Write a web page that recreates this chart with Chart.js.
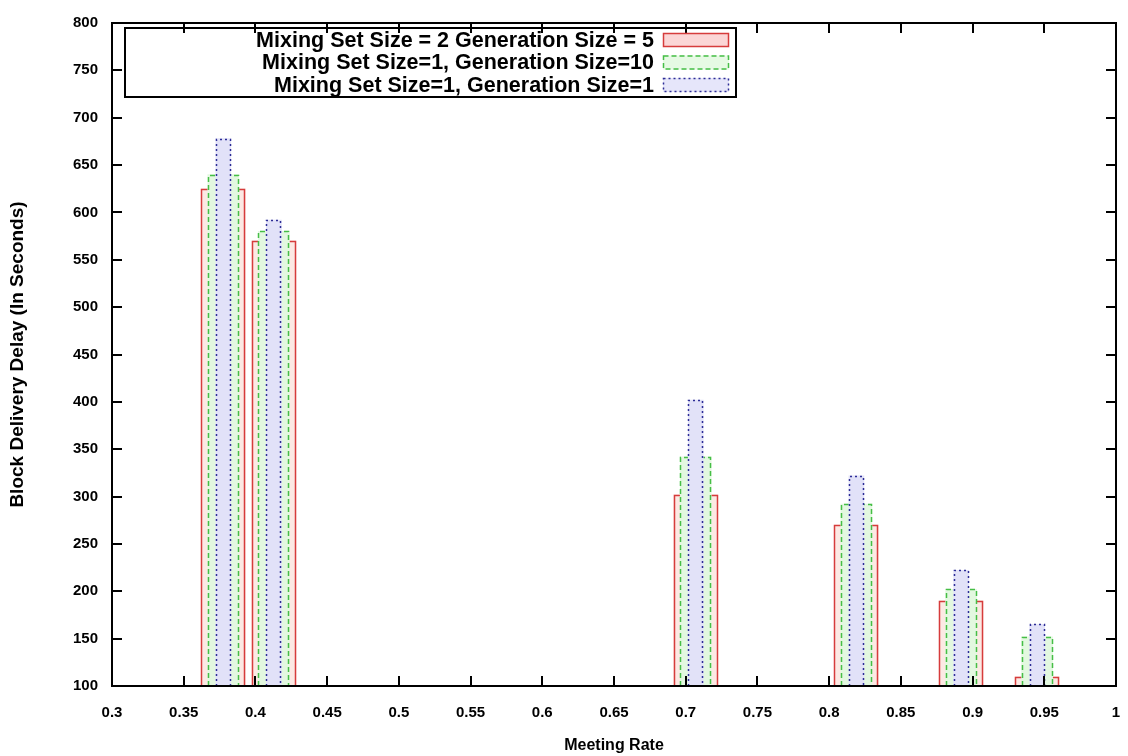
<!DOCTYPE html>
<html>
<head>
<meta charset="utf-8">
<script src="https://cdn.jsdelivr.net/npm/chart.js@4/dist/chart.umd.min.js"></script>
<style>
  html, body { margin: 0; padding: 0; background: #fff; }
  #wrap { width: 1128px; height: 756px; }
</style>
</head>
<body>
<div id="wrap"><canvas id="delayChart"></canvas></div>
<script>
// meeting rate where each group of bars sits
const meetingRates = [0.3776, 0.4129, 0.707, 0.819, 0.892, 0.945];

// block delivery delay (seconds) per configuration
const mix2Gen5 = [625, 570, 302, 270, 190, 110];
const mix1Gen10 = [640, 580, 342, 292, 202, 152];
const mix1Gen1 = [678, 592, 402, 322, 222, 165];

const seriesLabels = [
  "Mixing Set Size = 2 Generation Size = 5",
  "Mixing Set Size=1, Generation Size=10",
  "Mixing Set Size=1, Generation Size=1",
];

const xMin = 0.3, xMax = 1, xStep = 0.05;
const yMin = 100, yMax = 800, yStep = 50;

const borderColors = ["rgb(214, 60, 60)", "rgb(70, 190, 70)", "rgb(45, 45, 150)"];
const fillColors = ["#fce9e4", "#e3f8e0", "#e2e2f8"];
const legendFills = ["#fbd6d6", "#e6fae4", "#e6e6fa"];
const dashes = [[], [5, 3], [2, 3]];
const thickness = [44, 31, 15];

const toPoints = (vals) => vals.map((v, i) => ({ x: meetingRates[i], y: v }));

const FONT = "'Liberation Sans', Arial, sans-serif";

// gnuplot-like outlines (dashed borders are not native for bars)
const outlinePlugin = {
  id: "outline",
  afterDatasetDraw(chart, args) {
    const ctx = chart.ctx;
    const area = chart.chartArea;
    const ds = chart.data.datasets[args.index];
    ctx.save();
    ctx.beginPath();
    ctx.rect(area.left, area.top, area.right - area.left, area.bottom - area.top);
    ctx.clip();
    ctx.strokeStyle = ds.outlineColor;
    ctx.lineWidth = 1.5;
    ctx.setLineDash(ds.outlineDash);
    args.meta.data.forEach((bar) => {
      const p = bar.getProps(["x", "y", "base", "width"], true);
      const x0 = Math.round(p.x - p.width / 2) + 0.5;
      const x1 = Math.round(p.x + p.width / 2) - 0.5;
      const y0 = Math.round(p.y) + 0.5;
      const yb = Math.min(p.base, area.bottom);
      ctx.beginPath();
      ctx.moveTo(x0, yb);
      ctx.lineTo(x0, y0);
      ctx.lineTo(x1, y0);
      ctx.lineTo(x1, yb);
      ctx.stroke();
    });
    ctx.restore();
  },
};

// frame with inward ticks on all four sides, plus boxed legend
const framePlugin = {
  id: "frame",
  afterDraw(chart) {
    const ctx = chart.ctx;
    const { left, right, top, bottom } = chart.chartArea;
    const xs = chart.scales.x;
    const ys = chart.scales.y;
    const tl = 10;
    ctx.save();
    ctx.strokeStyle = "#000";
    ctx.lineWidth = 2;
    ctx.setLineDash([]);
    ctx.beginPath();
    xs.ticks.forEach((t) => {
      const px = Math.round(xs.getPixelForValue(t.value));
      ctx.moveTo(px, bottom);
      ctx.lineTo(px, bottom - tl);
      ctx.moveTo(px, top);
      ctx.lineTo(px, top + tl);
    });
    ys.ticks.forEach((t) => {
      const py = Math.round(ys.getPixelForValue(t.value));
      ctx.moveTo(left, py);
      ctx.lineTo(left + tl, py);
      ctx.moveTo(right, py);
      ctx.lineTo(right - tl, py);
    });
    ctx.stroke();
    ctx.strokeRect(left, top, right - left, bottom - top);

    // legend
    const box = { x: 125, y: 28, w: 611, h: 69 };
    ctx.lineWidth = 2;
    ctx.strokeRect(box.x, box.y, box.w, box.h);
    ctx.font = "bold 21.5px " + FONT;
    ctx.textAlign = "right";
    ctx.textBaseline = "middle";
    ctx.fillStyle = "#000";
    seriesLabels.forEach((label, i) => {
      const cy = 40 + i * 22.5;
      ctx.fillText(label, 654, cy + 1);
      ctx.fillStyle = legendFills[i];
      ctx.fillRect(663, cy - 7, 66, 14);
      ctx.strokeStyle = borderColors[i];
      ctx.lineWidth = 1.5;
      ctx.setLineDash(dashes[i]);
      ctx.strokeRect(663.5, cy - 6.5, 65, 13);
      ctx.setLineDash([]);
      ctx.fillStyle = "#000";
    });
    ctx.restore();
  },
};

const makeSet = (i, vals, order) => ({
  label: seriesLabels[i],
  data: toPoints(vals),
  backgroundColor: fillColors[i],
  borderWidth: 0,
  barThickness: thickness[i],
  grouped: false,
  base: yMin,
  order: order,
  outlineColor: borderColors[i],
  outlineDash: dashes[i],
});

new Chart(document.getElementById("delayChart"), {
  type: "bar",
  data: {
    datasets: [
      makeSet(0, mix2Gen5, 3),
      makeSet(1, mix1Gen10, 2),
      makeSet(2, mix1Gen1, 1),
    ],
  },
  options: {
    responsive: true,
    maintainAspectRatio: false,
    animation: false,
    layout: { padding: { top: 18, right: 12, left: 0, bottom: 0 } },
    plugins: {
      legend: { display: false },
      tooltip: { enabled: false },
    },
    scales: {
      x: {
        type: "linear",
        min: xMin,
        max: xMax,
        offset: false,
        grid: { display: false, drawTicks: false },
        border: { display: false },
        ticks: {
          stepSize: xStep,
          padding: 18,
          color: "#000",
          maxRotation: 0,
          autoSkip: false,
          font: { family: FONT, size: 15, weight: "bold" },
          callback: (v) => String(+v.toFixed(2)),
        },
        title: {
          display: true,
          text: "Meeting Rate",
          color: "#000",
          padding: { top: 0, bottom: 1 },
          font: { family: FONT, size: 16, weight: "bold" },
        },
        afterFit: (s) => {
          s.height = 70;
          s.paddingLeft = 0;
          s.paddingRight = 0;
        },
      },
      y: {
        min: yMin,
        max: yMax,
        grid: { display: false, drawTicks: false },
        border: { display: false },
        ticks: {
          stepSize: yStep,
          padding: 14,
          color: "#000",
          font: { family: FONT, size: 15, weight: "bold" },
        },
        title: {
          display: true,
          text: "Block Delivery Delay (In Seconds)",
          color: "#000",
          padding: { top: 6, bottom: 0 },
          font: { family: FONT, size: 19, weight: "bold" },
        },
        afterFit: (s) => { s.width = 112; },
      },
    },
  },
  plugins: [outlinePlugin, framePlugin],
});
</script>
</body>
</html>
